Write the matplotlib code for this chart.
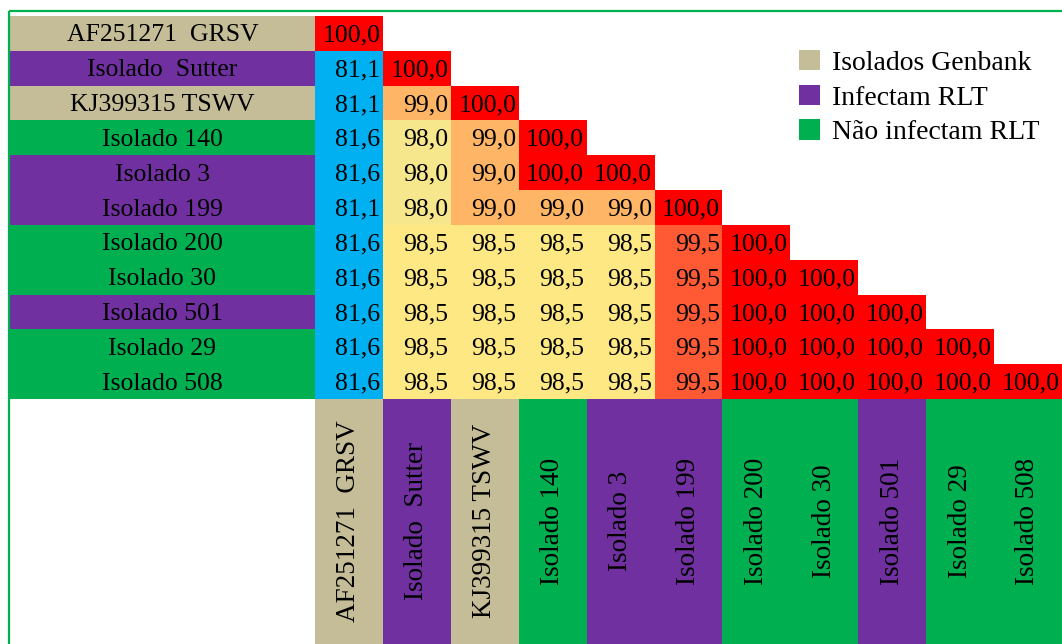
import matplotlib
matplotlib.use("Agg")
import matplotlib.pyplot as plt
from matplotlib.patches import Rectangle, Patch

# ---------------- data ----------------
labels = ["AF251271  GRSV", "Isolado  Sutter", "KJ399315 TSWV", "Isolado 140",
          "Isolado 3", "Isolado 199", "Isolado 200", "Isolado 30",
          "Isolado 501", "Isolado 29", "Isolado 508"]
groups = ["gen", "inf", "gen", "non", "inf", "inf", "non", "non", "inf", "non", "non"]
identity = [
    [100.0],
    [81.1, 100.0],
    [81.1, 99.0, 100.0],
    [81.6, 98.0, 99.0, 100.0],
    [81.6, 98.0, 99.0, 100.0, 100.0],
    [81.1, 98.0, 99.0, 99.0, 99.0, 100.0],
    [81.6, 98.5, 98.5, 98.5, 98.5, 99.5, 100.0],
    [81.6, 98.5, 98.5, 98.5, 98.5, 99.5, 100.0, 100.0],
    [81.6, 98.5, 98.5, 98.5, 98.5, 99.5, 100.0, 100.0, 100.0],
    [81.6, 98.5, 98.5, 98.5, 98.5, 99.5, 100.0, 100.0, 100.0, 100.0],
    [81.6, 98.5, 98.5, 98.5, 98.5, 99.5, 100.0, 100.0, 100.0, 100.0, 100.0],
]
legend_labels = ["Isolados Genbank", "Infectam RLT", "Não infectam RLT"]
legend_groups = ["gen", "inf", "non"]

# ---------------- style ----------------
group_colors = {"gen": "#C4BD97", "inf": "#7030A0", "non": "#00B050"}

def cell_color(v):
    if v < 90:
        return "#00B0F0"
    if v < 98.25:
        return "#F6E78C"
    if v < 98.75:
        return "#FDE883"
    if v < 99.25:
        return "#FFB566"
    if v < 99.75:
        return "#FF5A33"
    return "#FF0000"

W, H = 1062, 644
fig = plt.figure(figsize=(W / 100, H / 100), dpi=100)
ax = fig.add_axes([0, 0, 1, 1])
ax.set_axis_off()

x0_px, cw = 315.0, 67.9
y0_px, rh = 16.0, (399 - 16) / 11.0
ax.set_xlim((0 - x0_px) / cw, (W - x0_px) / cw)
ax.set_ylim((H - y0_px) / rh, (0 - y0_px) / rh)

n = len(labels)
label_left = (10 - x0_px) / cw
serif = ["Liberation Serif", "DejaVu Serif"]
fs_row = 18.5
fs_num = 18.5
fs_col = 19.5

# row labels
for i, (lab, g) in enumerate(zip(labels, groups)):
    ax.add_patch(Rectangle((label_left, i), -label_left, 1, facecolor=group_colors[g],
                           edgecolor="none"))
    ax.text(label_left / 2, i + 0.56, lab, ha="center", va="center",
            fontsize=fs_row, family=serif, color="black")

# matrix cells
pad = 2.5 / cw
for i, row in enumerate(identity):
    for j, v in enumerate(row):
        ax.add_patch(Rectangle((j, i), 1, 1, facecolor=cell_color(v), edgecolor="none"))
        ax.text(j + 1 - pad, i + 0.56, f"{v:.1f}".replace(".", ","), ha="right",
                va="center", fontsize=fs_num, family=serif, color="black")

# column headers
bottom = (H + 20 - y0_px) / rh
ymid = (521 - y0_px) / rh
for j, (lab, g) in enumerate(zip(labels, groups)):
    ax.add_patch(Rectangle((j, n), 1, bottom - n, facecolor=group_colors[g],
                           edgecolor="none"))
    ax.text(j + 0.5, ymid, lab, ha="center", va="center", rotation=90,
            fontsize=fs_col, family=serif, color="black")

# outer green frame
fx = (9 - x0_px) / cw
fy = (10.5 - y0_px) / rh
ax.add_patch(Rectangle((fx, fy), 30, 30, facecolor="none", edgecolor="#00B050",
                       linewidth=1.6, clip_on=True))

# legend
handles = [Patch(facecolor=group_colors[g], edgecolor="none") for g in legend_groups]
leg = ax.legend(handles, legend_labels, loc="upper left",
                bbox_to_anchor=(799 / W, 1 - 50 / H), frameon=False,
                prop={"family": serif, "size": 20}, handlelength=0.75,
                handleheight=0.75, handletextpad=0.45, labelspacing=0.32,
                borderaxespad=0, borderpad=0)

fig.savefig("out.png", dpi=100)
